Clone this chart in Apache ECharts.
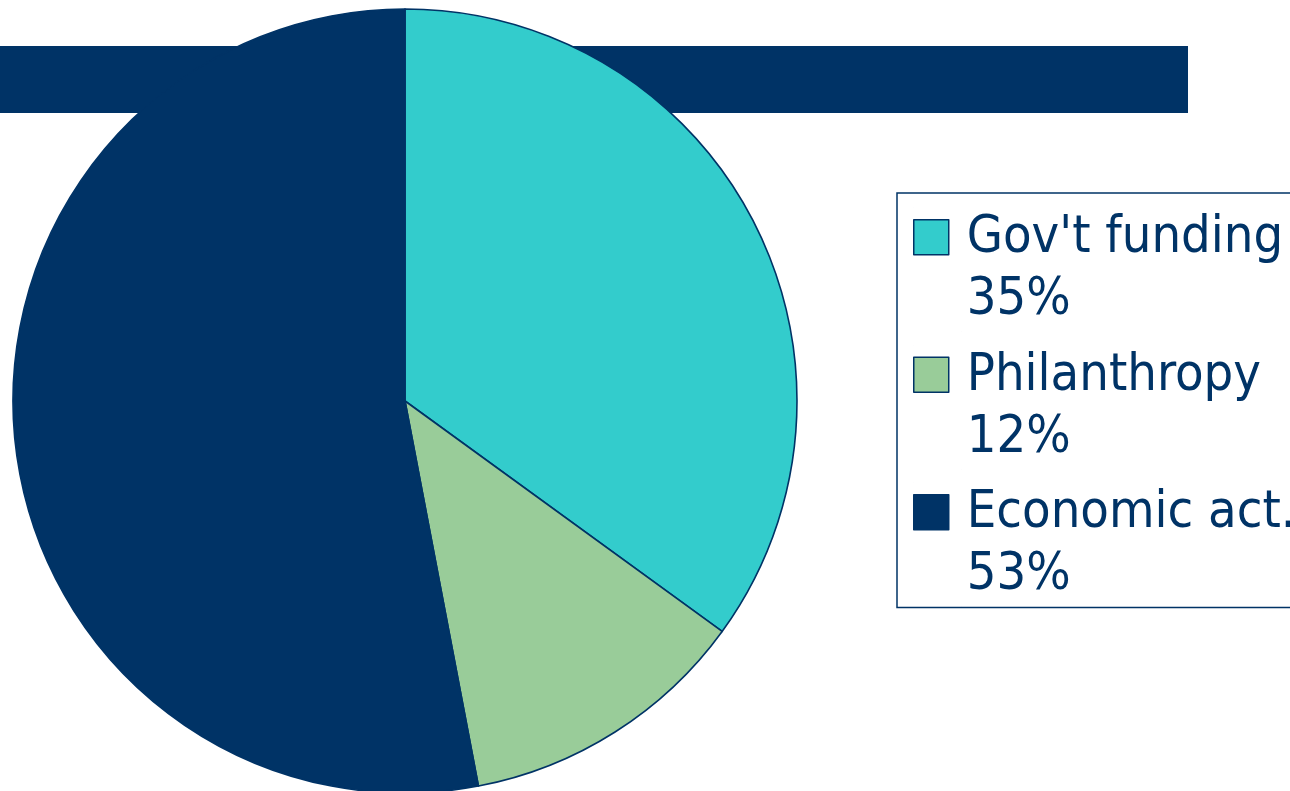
<!DOCTYPE html>
<html>
<head>
<meta charset="utf-8">
<script src="https://cdn.jsdelivr.net/npm/echarts@6/dist/echarts.min.js"></script>
<style>
html,body{margin:0;padding:0;background:#fff;}
#chart{width:1290px;height:791px;}
</style>
</head>
<body>
<div id="chart"></div>
<script>
const categories = ["Gov't funding", "Philanthropy", "Economic act."];
const values = [35, 12, 53];
const colors = ['#33CCCC', '#99CC99', '#003366'];

const navy = '#003366';
// legend icon: a square in the upper part of a tall invisible box so it lines up with the first text line
const iconPath = 'path://M0,0L0.01,0M0,12L35,12L35,47L0,47ZM48,124L48.01,124';

const chart = echarts.init(document.getElementById('chart'), null, {renderer: 'canvas'});
chart.setOption({
  animation: false,
  backgroundColor: '#ffffff',
  color: colors,
  graphic: [{
    type: 'rect',
    z: 0,
    shape: {x: 0, y: 46, width: 1188, height: 67},
    style: {fill: navy}
  }],
  legend: {
    orient: 'vertical',
    left: 897,
    top: 193,
    padding: [14, 20, 0, 16],
    itemGap: 12,
    itemWidth: 48,
    itemHeight: 124,
    icon: iconPath,
    selectedMode: false,
    borderColor: navy,
    borderWidth: 1.5,
    borderRadius: 0,
    backgroundColor: '#ffffff',
    itemStyle: {borderColor: navy, borderWidth: 1.5},
    textStyle: {
      color: navy,
      fontSize: 52,
      lineHeight: 62,
      fontFamily: '"DejaVu Sans Condensed", "DejaVu Sans", sans-serif'
    },
    formatter: function (name) {
      const i = categories.indexOf(name);
      return name + '\n' + values[i] + '%';
    },
    data: categories
  },
  series: [{
    type: 'pie',
    center: [405, 401],
    radius: [0, 392],
    startAngle: 90,
    clockwise: true,
    label: {show: false},
    labelLine: {show: false},
    emphasis: {disabled: true},
    itemStyle: {borderColor: navy, borderWidth: 1.6},
    data: categories.map((c, i) => ({name: c, value: values[i]}))
  }]
});
</script>
</body>
</html>
